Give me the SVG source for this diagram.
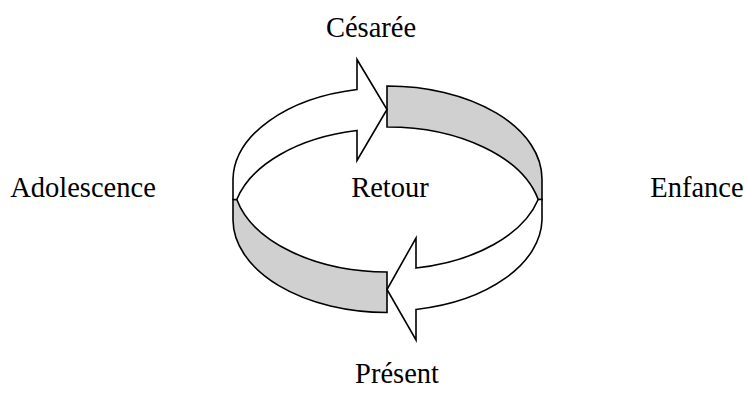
<svg xmlns="http://www.w3.org/2000/svg" width="747" height="394" viewBox="0 0 747 394">
<style>
.w{fill:#ffffff;stroke:#000000;stroke-width:1.6;stroke-linejoin:miter}
.g{fill:#d0d0d0;stroke:#000000;stroke-width:1.6;stroke-linejoin:miter}
.t{font-family:"Liberation Serif","Times New Roman",serif;font-size:28.5px;fill:#000000;text-anchor:middle}
</style>
<rect width="747" height="394" fill="#ffffff"/>
<g id="connectors">
<g id="band-top-right">
<path class="g" d="M387,86 A154.5,93 0 0 1 542,179 L542,199.5 L538.2,199.5 A154.5,93 0 0 0 387,127 Z"/>
</g>
<g id="band-bottom-left">
<path class="g" d="M233,199.5 L233,220 A154.5,93 0 0 0 387,312.5 L387,272 A154.5,93 0 0 1 236.8,199.5 Z"/>
</g>
<g id="arrow-top">
<path class="w" d="M233,199.5 L233,179 A154.5,93 0 0 1 357,89.5 L357,59.5 L387,109.5 L357,160.5 L357,130.5 A154.5,93 0 0 0 236.8,199.5 Z"/>
</g>
<g id="arrow-bottom">
<path class="w" d="M542,199.5 L542,220 A154.5,93 0 0 1 416,309.5 L416,340 L387,289.5 L416,238 L416,268 A154.5,93 0 0 0 538.2,199.5 Z"/>
</g>
</g>
<g id="node-cesaree"><text class="t" x="371" y="37">Césarée</text></g>
<g id="node-adolescence"><text class="t" x="83" y="197">Adolescence</text></g>
<g id="node-retour"><text class="t" x="390" y="197">Retour</text></g>
<g id="node-enfance"><text class="t" x="697" y="197">Enfance</text></g>
<g id="node-present"><text class="t" x="397" y="383">Présent</text></g>
</svg>
